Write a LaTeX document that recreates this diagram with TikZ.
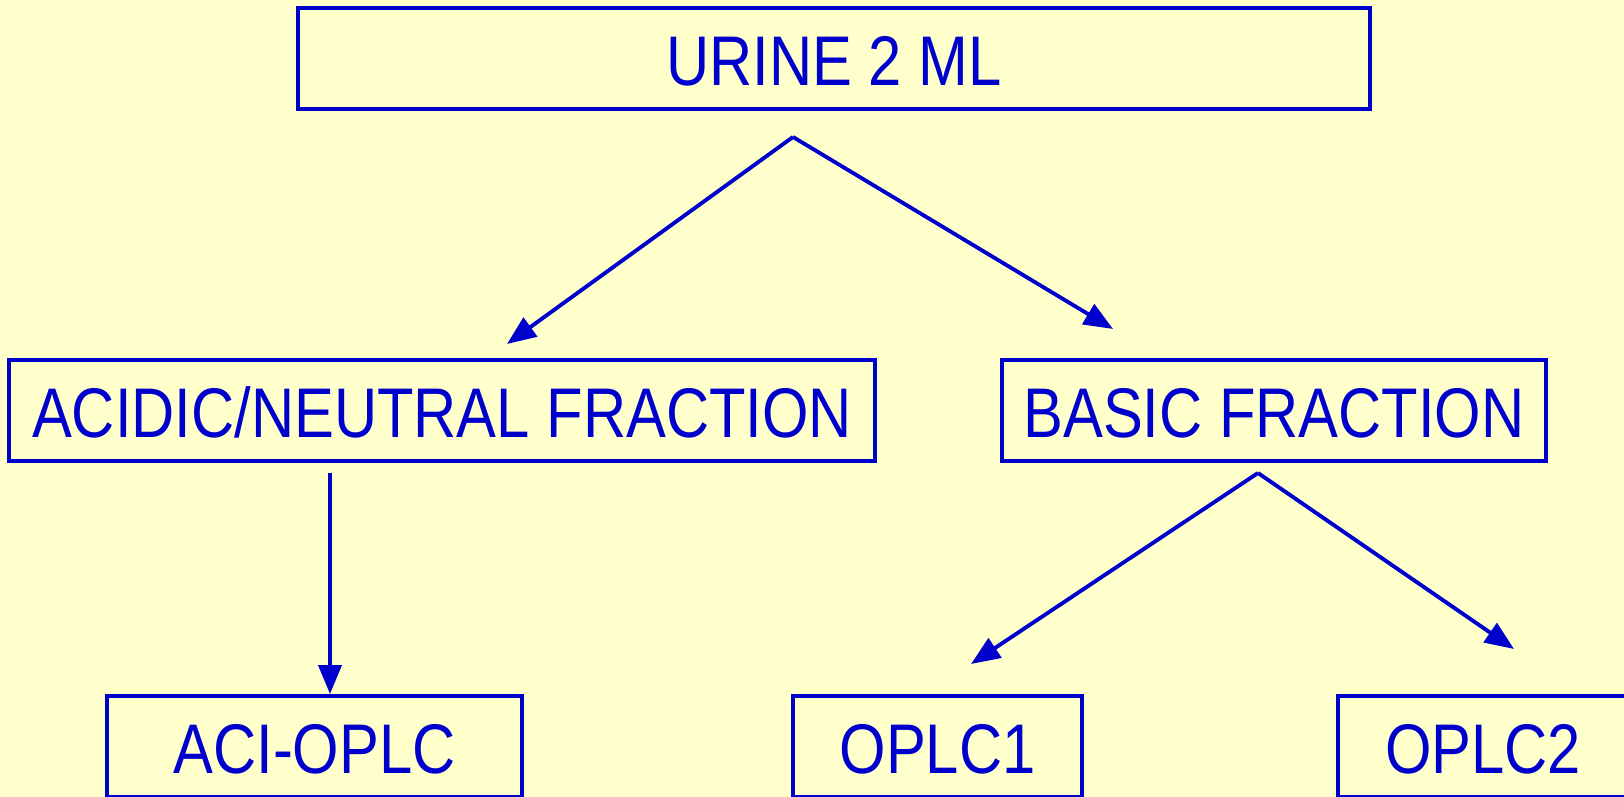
\documentclass[tikz,border=0pt]{standalone}
\usepackage{fontspec}
\usepackage{tikz}
\usetikzlibrary{arrows.meta,positioning}
\usepackage{xcolor}
\newfontfamily\boxfont[FakeStretch=0.85]{Liberation Sans}
\definecolor{paleyellow}{HTML}{FFFFCC}
\definecolor{deepblue}{HTML}{0000CC}

\begin{document}
\begin{tikzpicture}[>={Triangle[length=0.29cm,width=0.23cm]},
    fracbox/.style={draw=deepblue, line width=1.1pt, text=deepblue, inner sep=0pt,
      minimum height=1.01cm, text height=0.54cm, text depth=0pt,
      font=\boxfont\fontsize{20}{22}\selectfont},
    flow/.style={->, draw=deepblue, line width=1.1pt}]
  % ---- page and background ----
  \fill[paleyellow] (0,0) rectangle (16.24,7.97);
  \useasboundingbox (0,0) rectangle (16.24,7.97);
  \clip (0,0) rectangle (16.24,7.97);

  % ---- boxes ----
  \node[fracbox, minimum width=10.72cm] (urine) at (8.34,7.385) {URINE 2 ML};
  \node[fracbox, minimum width=8.66cm] (acidic) at (4.42,3.865) {ACIDIC/NEUTRAL FRACTION};
  \node[fracbox, minimum width=5.44cm] (basic) at (12.74,3.865) {BASIC FRACTION};
  \node[fracbox, minimum width=4.15cm] (aci) at (3.145,0.505) {ACI-OPLC};
  \node[fracbox, minimum width=2.89cm] (oplc1) at (9.375,0.505) {OPLC1};
  \node[fracbox, minimum width=2.90cm] (oplc2) at (14.83,0.505) {OPLC2};

  % ---- fork points and arrow ends ----
  \coordinate (urinefork) at (7.93,6.60);
  \coordinate (acidictip) at (5.07,4.53);
  \coordinate (basictip) at (11.13,4.68);
  \coordinate (acidicdrop) at (3.30,3.24);
  \coordinate (basicfork) at (12.58,3.24);
  \coordinate (oplc1tip) at (9.71,1.33);
  \coordinate (oplc2tip) at (15.14,1.48);

  % ---- arrows ----
  \draw[flow] (urinefork) -- (acidictip);
  \draw[flow] (urinefork) -- (basictip);
  \draw[flow] (acidicdrop) -- (acidicdrop |- aci.north);
  \draw[flow] (basicfork) -- (oplc1tip);
  \draw[flow] (basicfork) -- (oplc2tip);
\end{tikzpicture}
\end{document}
